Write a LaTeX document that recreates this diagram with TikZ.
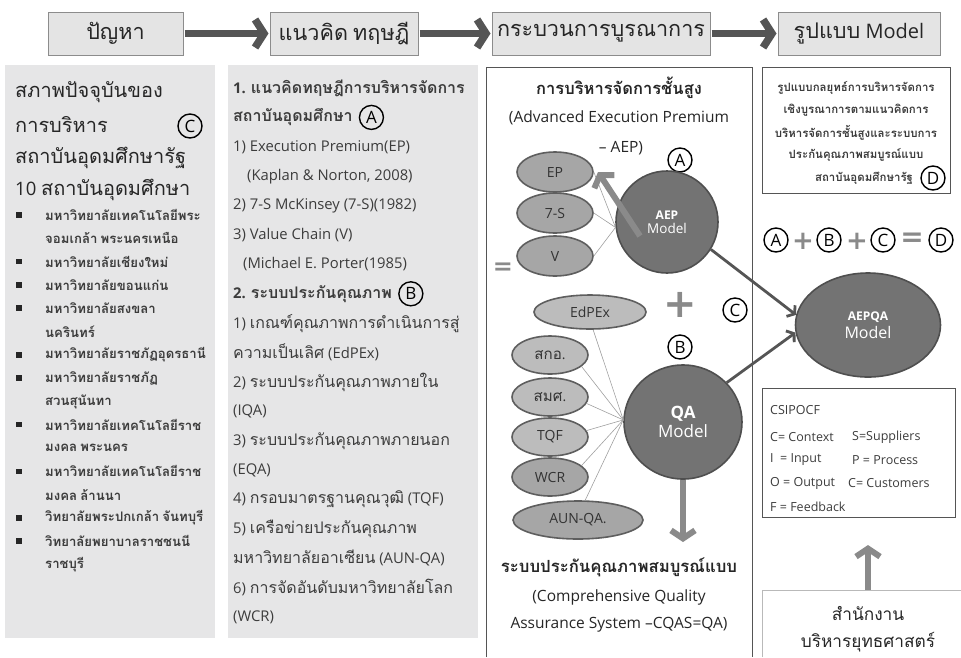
\documentclass[tikz,border=0pt]{standalone}
\usepackage{fontspec}
\setmainfont{Open Sans}
\newfontfamily\thaifont[Script=Thai,Scale=1.08]{Loma}
\newfontfamily\symfont{DejaVu Sans}
\XeTeXinterchartokenstate=1
\newXeTeXintercharclass\ThaiCls
\newcount\tcnt
\tcnt="0E00
\loop\ifnum\tcnt<"0E80 \XeTeXcharclass\tcnt=\ThaiCls \advance\tcnt by 1 \repeat
\XeTeXinterchartoks 0 \ThaiCls = {\begingroup\thaifont}
\XeTeXinterchartoks 4095 \ThaiCls = {\begingroup\thaifont}
\XeTeXinterchartoks \ThaiCls 0 = {\endgroup}
\XeTeXinterchartoks \ThaiCls 4095 = {\endgroup}
\usetikzlibrary{shapes.geometric,arrows.meta,positioning}
\newcommand\fs[1]{\fontsize{#1}{#1}\selectfont}
\definecolor{panelfill}{HTML}{E6E6E7}
\definecolor{hdrfill}{HTML}{E4E4E4}
\definecolor{hdrline}{HTML}{8C8C8C}
\definecolor{arrdark}{HTML}{555555}
\definecolor{arrgrey}{HTML}{8A8A8A}
\definecolor{ellfill}{HTML}{A6A6A6}
\definecolor{elllight}{HTML}{BCBCBC}
\definecolor{ellline}{HTML}{5E5E5E}
\definecolor{bigfill}{HTML}{737373}
\definecolor{bigline}{HTML}{4F4F4F}
\definecolor{txtgrey}{HTML}{3C3C3C}
\tikzset{
 hdr/.style={draw=hdrline,fill=hdrfill,line width=1pt,minimum height=43pt,inner sep=0pt,font=\fs{20},text=black!85},
 harr/.style={draw=arrdark,line width=7.5pt,-{Straight Barb[length=9pt,width=28pt]},shorten <=1pt,shorten >=1pt},
 garr/.style={draw=arrgrey,line width=6pt,-{Straight Barb[length=8pt,width=24pt]}},
 darr/.style={draw=arrdark,line width=2.8pt,-{Straight Barb[length=5pt,width=14pt]}},
 circl/.style={circle,draw=black,line width=1.4pt,minimum size=24pt,inner sep=0pt,font=\fs{17}},
 sell/.style={ellipse,draw=ellline,line width=1.6pt,fill=ellfill,minimum width=76pt,minimum height=40pt,inner sep=0pt,font=\fs{14},text=black!80},
 lell/.style={sell,fill=elllight},
 bigc/.style={ellipse,draw=bigline,line width=1.6pt,fill=bigfill,inner sep=0pt,text=white,align=center},
 thinl/.style={draw=gray!75,line width=0.6pt},
 txt/.style={inner sep=0pt,anchor=west},
 ctxt/.style={inner sep=0pt,anchor=center},
 sym/.style={inner sep=0pt,text=arrgrey,font=\symfont\bfseries\fs{30}},
 bul/.style={rectangle,fill=black!85,minimum size=5.5pt,inner sep=0pt}
}
\begin{document}
\begin{tikzpicture}[x=1pt,y=-1pt]
\useasboundingbox (0,0) rectangle (961,657);
% ---------- header ----------
\node[hdr,minimum width=135pt] (h1) at (115.5,33.5) {ปัญหา};
\node[hdr,minimum width=148pt] (h2) at (344,33.5) {แนวคิด ทฤษฎี};
\node[hdr,minimum width=218pt] (h3) at (601,33.5) {กระบวนการบูรณาการ};
\node[hdr,minimum width=162pt] (h4) at (859,33.5) {รูปแบบ Model};
\draw[harr] (h1) -- (h2);
\draw[harr] (h2) -- (h3);
\draw[harr] (h3) -- (h4);
% ---------- panels ----------
\fill[panelfill] (5,65) rectangle (215,638);
\fill[panelfill] (228,65) rectangle (478,638);
\draw[arrdark,line width=0.8pt] (486,657) -- (486,67) -- (752,67) -- (752,657);
% ---------- column 1 ----------
\node[txt,font=\fs{18.5},text=black!85] (c1a) at (15,92) {สภาพปัจจุบันของ};
\node[txt,font=\fs{18.5},text=black!85] (c1b) at (15,125) {การบริหาร};
\node[txt,font=\fs{18.5},text=black!85] (c1c) at (15,158) {สถาบันอุดมศึกษารัฐ};
\node[txt,font=\fs{18.5},text=black!85] (c1d) at (15,190) {10 สถาบันอุดมศึกษา};
\node[circl] (cC) at (190,126) {C};
\foreach \i/\t/\b in {1/{มหาวิทยาลัยเทคโนโลยีพระ}/1,
  2/{จอมเกล้า พระนครเหนือ}/0,
  3/{มหาวิทยาลัยเชียงใหม่}/1,
  4/{มหาวิทยาลัยขอนแก่น}/1,
  5/{มหาวิทยาลัยสงขลา}/1,
  6/{นครินทร์}/0,
  7/{มหาวิทยาลัยราชภัฏอุดรธานี}/1,
  8/{มหาวิทยาลัยราชภัฏ}/1,
  9/{สวนสุนันทา}/0,
  10/{มหาวิทยาลัยเทคโนโลยีราช}/1,
  11/{มงคล พระนคร}/0,
  12/{มหาวิทยาลัยเทคโนโลยีราช}/1,
  13/{มงคล ล้านนา}/0,
  14/{วิทยาลัยพระปกเกล้า จันทบุรี}/1,
  15/{วิทยาลัยพยาบาลราชชนนี}/1,
  16/{ราชบุรี}/0}{
  \pgfmathsetmacro\yy{215+(\i-1)*23.3}
  \node[txt,font=\bfseries\fs{12.2},text=txtgrey] (L\i) at (45,\yy) {\t};
  \ifnum\b=1 \node[bul] (B\i) at (19,\yy) {};\fi
}
% ---------- column 2 ----------
\foreach \i/\x/\t in {1/233/{\bfseries 1. แนวคิดทฤษฎีการบริหารจัดการ},
  2/233/{\bfseries สถาบันอุดมศึกษา},
  3/233/{1) Execution Premium(EP)},
  4/247/{(Kaplan \& Norton, 2008)},
  5/233/{2) 7-S McKinsey (7-S)(1982)},
  6/233/{3) Value Chain (V)},
  7/243/{(Michael E. Porter(1985)},
  8/233/{\bfseries 2. ระบบประกันคุณภาพ},
  9/233/{1) เกณฑ์คุณภาพการดำเนินการสู่},
  10/233/{ความเป็นเลิศ (EdPEx)},
  11/233/{2) ระบบประกันคุณภาพภายใน},
  12/233/{(IQA)},
  13/233/{3) ระบบประกันคุณภาพภายนอก},
  14/233/{(EQA)},
  15/233/{4) กรอบมาตรฐานคุณวุฒิ (TQF)},
  16/233/{5) เครือข่ายประกันคุณภาพ},
  17/233/{มหาวิทยาลัยอาเซียน (AUN-QA)},
  18/233/{6) การจัดอันดับมหาวิทยาลัยโลก},
  19/233/{(WCR)}}{
  \pgfmathsetmacro\yy{88+(\i-1)*29.4}
  \node[txt,font=\fs{14.8},text=txtgrey] (M\i) at (\x,\yy) {\t};
}
\node[circl,right=6pt of M2] (cA1) {A};
\node[circl,right=6pt of M8] (cB1) {B};
% ---------- column 3 ----------
\node[ctxt,font=\bfseries\fs{15.3},text=black!85] (t3a) at (619,88) {การบริหารจัดการชั้นสูง};
\node[ctxt,font=\fs{15.5},text=black!85] (t3b) at (619,118) {(Advanced Execution Premium};
\node[ctxt,font=\fs{15.5},text=black!85] (t3c) at (621,148) {– AEP)};
\node[circl] (cA2) at (680,160) {A};
\node[sell] (ep) at (555,172) {EP};
\node[sell] (s7) at (555,213) {7-S};
\node[sell] (vv) at (555,256) {V};
\node[sym,font=\symfont\bfseries\fs{24}] (eq1) at (503,269) {=};
\node[bigc,minimum width=102pt,minimum height=102pt] (aep) at (667,222) {{\bfseries\fs{12}AEP}\\[2pt]{\fs{13.5}Model}};
\draw[thinl] (ep.east) -- (aep.186);
\draw[thinl] (s7.east) -- (aep.186);
\draw[thinl] (vv.east) -- (aep.186);
\coordinate (aepT) at (640,236);
\coordinate (aepH) at (598,172);
\draw[garr] (aepT) -- (aepH);
\node[lell,minimum width=112pt,minimum height=34pt] (edp) at (590,312) {EdPEx};
\node[sym,font=\symfont\bfseries\fs{40}] (pl1) at (680,305) {+};
\node[circl] (cC2) at (735,310) {C};
\node[circl] (cB2) at (680,347) {B};
\node[lell,minimum height=38pt] (ska) at (550,355) {สกอ.};
\node[lell,minimum height=38pt] (sms) at (550,397) {สมศ.};
\node[lell,minimum height=38pt] (tqf) at (550,437) {TQF};
\node[sell,minimum height=38pt] (wcr) at (550,477) {WCR};
\node[sell,minimum width=130pt,minimum height=38pt] (aun) at (578,520) {AUN-QA.};
\node[bigc,minimum width=118pt,minimum height=114pt] (qa) at (683,422) {{\bfseries\fs{17}QA}\\[3pt]{\fs{17}Model}};
\draw[thinl] (edp.-80) -- (qa.178);
\draw[thinl] (ska.-20) -- (qa.178);
\draw[thinl] (sms.-10) -- (qa.178);
\draw[thinl] (tqf.10) -- (qa.178);
\draw[thinl] (wcr.20) -- (qa.178);
\draw[thinl] (aun.70) -- (qa.178);
\coordinate (qaH) at (683,542);
\draw[garr] (qa.south) -- (qaH);
\node[ctxt,font=\bfseries\fs{15.5},text=black!85] (t3d) at (619,567) {ระบบประกันคุณภาพสมบูรณ์แบบ};
\node[ctxt,font=\fs{15.5},text=black!85] (t3e) at (619,597) {(Comprehensive Quality};
\node[ctxt,font=\fs{15.5},text=black!85] (t3f) at (619,625) {Assurance System –CQAS=QA)};
% ---------- column 4 ----------
\draw[arrdark,line width=0.8pt] (762,67) rectangle (950,193);
\node[ctxt,font=\bfseries\fs{10.6},text=txtgrey] (d1) at (856,88) {รูปแบบกลยุทธ์การบริหารจัดการ};
\node[ctxt,font=\bfseries\fs{10.6},text=txtgrey] (d2) at (856,110) {เชิงบูรณาการตามแนวคิดการ};
\node[ctxt,font=\bfseries\fs{10.6},text=txtgrey] (d3) at (856,133) {บริหารจัดการชั้นสูงและระบบการ};
\node[ctxt,font=\bfseries\fs{10.6},text=txtgrey] (d4) at (856,155) {ประกันคุณภาพสมบูรณ์แบบ};
\node[ctxt,font=\bfseries\fs{10.6},text=txtgrey] (d5) at (864,178) {สถาบันอุดมศึกษารัฐ};
\node[circl] (cD1) at (933,178) {D};
\node[circl] (eA) at (776,240) {A};
\node[sym,font=\symfont\bfseries\fs{26}] (ep1) at (803,241) {+};
\node[circl] (eB) at (829,240) {B};
\node[sym,font=\symfont\bfseries\fs{26}] (ep2) at (857,241) {+};
\node[circl] (eC) at (883,240) {C};
\node[sym,font=\symfont\bfseries\fs{28}] (eq2) at (912,240) {=};
\node[circl] (eD) at (941,240) {D};
\node[bigc,minimum width=145pt,minimum height=104pt] (aepqa) at (868,325) {{\bfseries\fs{12}AEPQA}\\[3pt]{\fs{16}Model}};
\draw[darr] (aep.-32) -- (aepqa.172);
\draw[darr] (qa.42) -- (aepqa.186);
\draw[arrdark,line width=0.8pt] (762,388) rectangle (955,517);
\node[txt,font=\fs{12.5},text=txtgrey] (k1) at (770,410) {CSIPOCF};
\node[txt,font=\fs{12.5},text=txtgrey] (k2) at (770,437) {C= Context};
\node[txt,font=\fs{12.5},text=txtgrey] (k3) at (852,437) {S=Suppliers};
\node[txt,font=\fs{12.5},text=txtgrey] (k4) at (770,460) {I\ \ = Input};
\node[txt,font=\fs{12.5},text=txtgrey] (k5) at (852,460) {P = Process};
\node[txt,font=\fs{12.5},text=txtgrey] (k6) at (770,483) {O = Output};
\node[txt,font=\fs{12.5},text=txtgrey] (k7) at (848,483) {C= Customers};
\node[txt,font=\fs{12.5},text=txtgrey] (k8) at (770,507) {F = Feedback};
\draw[gray!55,line width=0.8pt] (762,657) -- (762,590) -- (961,590);
\node[ctxt,font=\fs{16},text=black!85] (o1) at (868,613) {สำนักงาน};
\node[ctxt,font=\fs{16},text=black!85] (o2) at (868,642) {บริหารยุทธศาสตร์};
\coordinate (upT) at (868,590);
\coordinate (upH) at (868,545);
\draw[garr] (upT) -- (upH);
\end{tikzpicture}
\end{document}
